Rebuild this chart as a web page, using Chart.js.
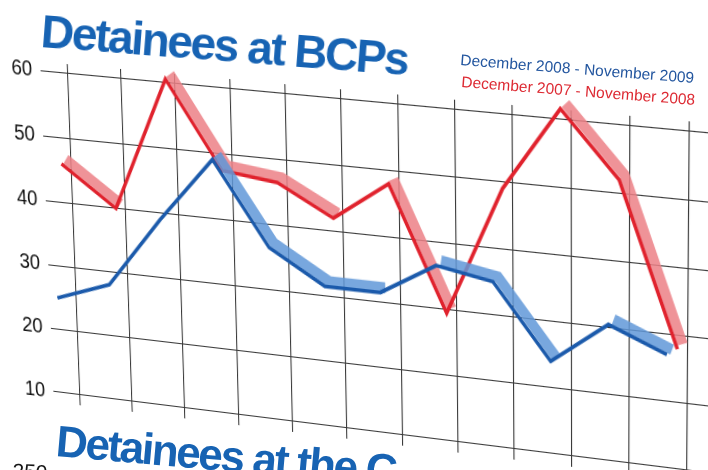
<!DOCTYPE html>
<html>
<head>
<meta charset="utf-8">
<title>Detainees at BCPs</title>
<script src="https://cdn.jsdelivr.net/npm/chart.js@4.4.1/dist/chart.umd.min.js"></script>
<style>
  html, body { margin: 0; padding: 0; background: #fff; }
  #page {
    position: relative; width: 708px; height: 470px; overflow: hidden;
    background: #fff; font-family: "Liberation Sans", Arial, sans-serif;
  }
  #chart { position: absolute; left: 0; top: 0; transform-origin: 0 0; }
  .txt { position: absolute; white-space: nowrap; }
  .big { color: #1763b3; font-weight: bold; letter-spacing: -2.3px; }
  #legBlue { color: #23569f; }
  #legRed { color: #dd2a33; }
  #nextTick { color: #161616; }
</style>
</head>
<body>
<div id="page">
  <canvas id="chart" width="760" height="356"></canvas>
  <div class="txt big" id="title">Detainees at BCPs</div>
  <div class="txt" id="legBlue">December 2008 - November 2009</div>
  <div class="txt" id="legRed">December 2007 - November 2008</div>
  <div class="txt big" id="title2">Detainees at the C</div>
  <div class="txt" id="nextTick">250</div>
</div>
<script>
// --- DATA ---
const months = ['Dec', 'Jan', 'Feb', 'Mar', 'Apr', 'May', 'Jun', 'Jul', 'Aug', 'Sep', 'Oct', 'Nov'];
const detainees0809 = [25, 28, 39, 49, 36.5, 31.5, 31.5, 36.5, 35, 24, 30.5, 27];
const detainees0708 = [46, 40, 60.5, 47.5, 46.5, 42, 48, 29.5, 49, 61.5, 52, 28];
const yTicks = [10, 20, 30, 40, 50, 60];

// --- COLOURS ---
const blueLine = '#1b5aab';
const blueBand = 'rgba(96, 152, 216, 0.85)';
const redLine = '#e0222d';
const redBand = 'rgba(236, 128, 134, 0.85)';
const gridColor = '#3a3a3a';

// ribbon face only shows on the falling parts of each line
function bandSegment(color) {
    return {
        borderColor: ctx => ctx.p1.parsed.y > ctx.p0.parsed.y ? 'rgba(0,0,0,0)' : color
    };
}

// nudges a dataset to fake the raised 3D ribbon
const depthPlugin = {
    id: 'depth',
    beforeDatasetDraw(chart, args) {
        const ds = chart.data.datasets[args.index];
        chart.ctx.save();
        chart.ctx.translate(ds.depthX || 0, ds.depthY || 0);
    },
    afterDatasetDraw(chart) {
        chart.ctx.restore();
    }
};

const ctx = document.getElementById('chart').getContext('2d');
const chart = new Chart(ctx, {
    type: 'line',
    data: {
        labels: months,
        datasets: [
            { label: 'December 2008 - November 2009', data: detainees0809, borderColor: blueLine, borderWidth: 3.5, depthX: -20, clip: false },
            { label: 'band 08/09', data: detainees0809, borderColor: blueBand, borderWidth: 10, segment: bandSegment(blueBand), depthX: -15, depthY: -5, clip: false },
            { label: 'December 2007 - November 2008', data: detainees0708, borderColor: redLine, borderWidth: 3.5, depthX: -10, clip: false },
            { label: 'band 07/08', data: detainees0708, borderColor: redBand, borderWidth: 10, segment: bandSegment(redBand), depthX: -5, depthY: -5, clip: false }
        ]
    },
    options: {
        responsive: false,
        animation: false,
        devicePixelRatio: 1,
        layout: { padding: { left: 4, right: 40, top: 14, bottom: 0 } },
        elements: {
            point: { radius: 0 },
            line: { tension: 0, borderCapStyle: 'butt', borderJoinStyle: 'miter' }
        },
        plugins: {
            legend: { display: false },
            tooltip: { enabled: false }
        },
        scales: {
            x: {
                offset: true,
                grid: { color: gridColor, lineWidth: 1.1, drawTicks: true, tickLength: 10, offset: false },
                border: { display: false },
                ticks: { display: false }
            },
            y: {
                min: 10,
                max: 61.4,
                afterBuildTicks: scale => { scale.ticks = yTicks.map(v => ({ value: v })); },
                grid: { color: gridColor, lineWidth: 1.1, drawTicks: false },
                border: { display: false },
                ticks: {
                    padding: 9,
                    color: '#111',
                    font: { family: '"Liberation Sans", Arial, sans-serif', size: 20 }
                }
            }
        }
    },
    plugins: [depthPlugin]
});

// --- PERSPECTIVE: map the flat plot onto the tilted poster ---
function solveHomography(src, dst) {
    const A = [], B = [];
    for (let i = 0; i < 4; i++) {
        const [x, y] = src[i], [u, v] = dst[i];
        A.push([x, y, 1, 0, 0, 0, -x * u, -y * u]); B.push(u);
        A.push([0, 0, 0, x, y, 1, -x * v, -y * v]); B.push(v);
    }
    const n = 8;
    for (let c = 0; c < n; c++) {
        let p = c;
        for (let r = c + 1; r < n; r++) if (Math.abs(A[r][c]) > Math.abs(A[p][c])) p = r;
        [A[c], A[p]] = [A[p], A[c]];
        [B[c], B[p]] = [B[p], B[c]];
        for (let r = c + 1; r < n; r++) {
            const f = A[r][c] / A[c][c];
            for (let k = c; k < n; k++) A[r][k] -= f * A[c][k];
            B[r] -= f * B[c];
        }
    }
    const h = new Array(n);
    for (let r = n - 1; r >= 0; r--) {
        let s = B[r];
        for (let k = r + 1; k < n; k++) s -= A[r][k] * h[k];
        h[r] = s / A[r][r];
    }
    return h;
}

const xs = chart.scales.x, ys = chart.scales.y;
const src = [
    [xs.getPixelForValue(0), ys.getPixelForValue(60)],
    [xs.getPixelForValue(11), ys.getPixelForValue(60)],
    [xs.getPixelForValue(0), ys.getPixelForValue(10)],
    [xs.getPixelForValue(11), ys.getPixelForValue(10)]
];
// where those four grid crossings sit in the photo
const dst = [[67.4, 73.3], [689.5, 131.1], [79.6, 395], [687, 470.5]];
const h = solveHomography(src, dst);
document.getElementById('chart').style.transform =
    `matrix3d(${h[0]},${h[3]},0,${h[6]},${h[1]},${h[4]},0,${h[7]},0,0,1,0,${h[2]},${h[5]},0,1)`;

// --- TEXT ON THE POSTER ---
function placeText(id, x, baseline, size, angle) {
    const el = document.getElementById(id);
    const asc = 0.8465 * size;
    el.style.fontSize = size + 'px';
    el.style.lineHeight = size + 'px';
    el.style.left = x + 'px';
    el.style.top = (baseline - asc) + 'px';
    el.style.transformOrigin = `0 ${asc}px`;
    el.style.transform = `rotate(${angle}deg)`;
}
placeText('title', 40, 47, 46, 4.4);
placeText('legBlue', 460, 65, 15.5, 4.4);
placeText('legRed', 461, 87, 15.5, 4.4);
placeText('title2', 55, 456, 44, 5);
placeText('nextTick', 12, 478, 21, 3);
</script>
</body>
</html>
